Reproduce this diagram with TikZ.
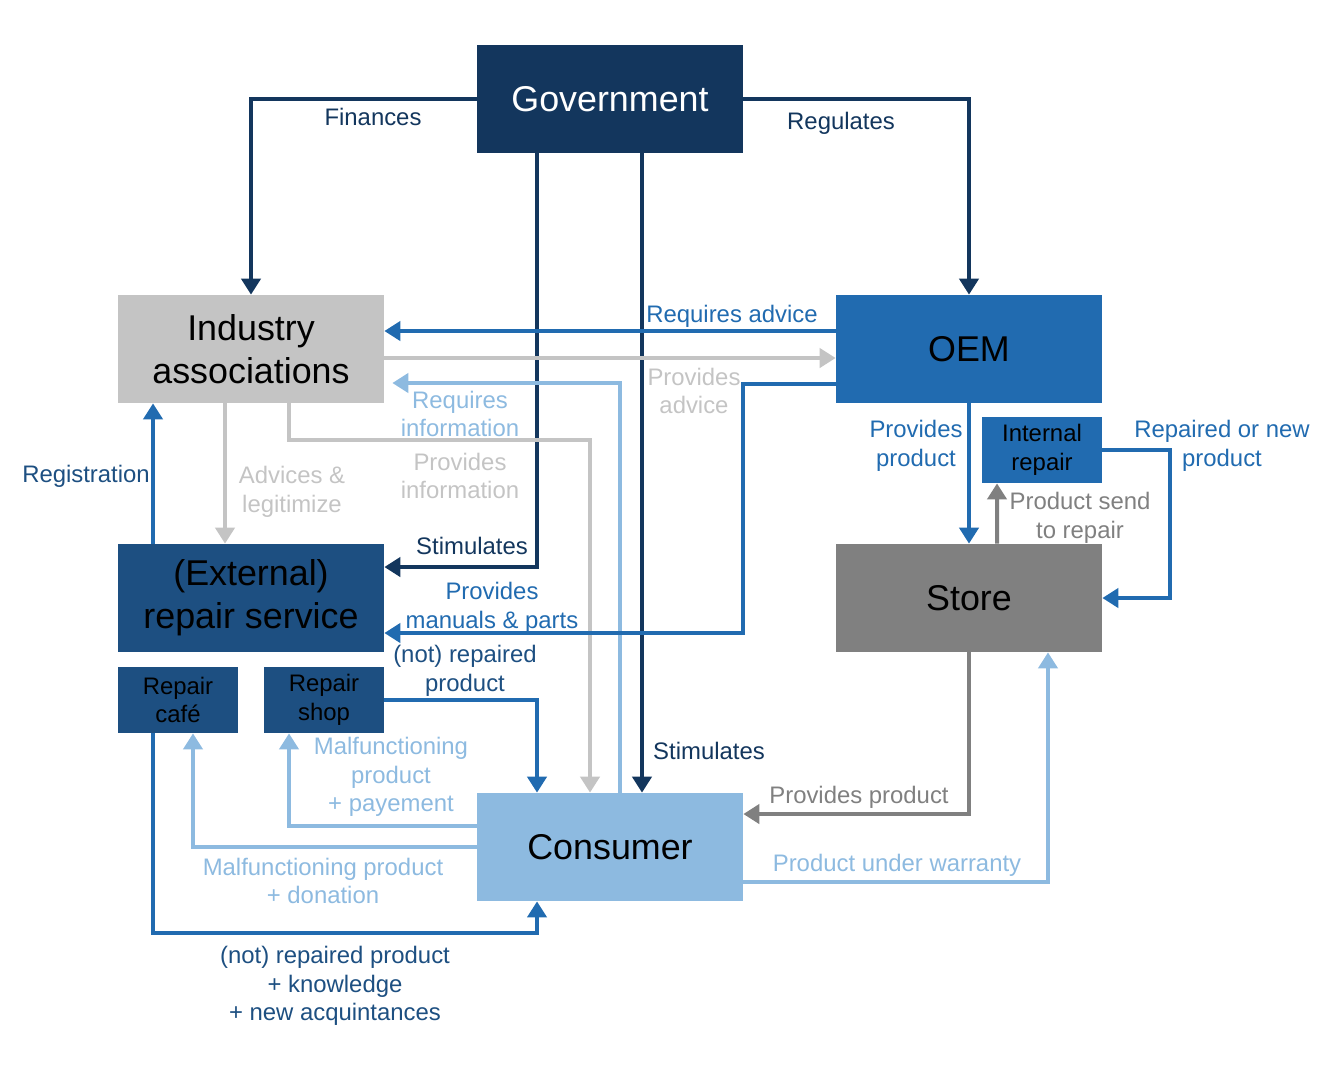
\documentclass[tikz,border=0pt]{standalone}
\usepackage{fontspec}
\setmainfont{Liberation Sans}
\usepackage{tikz}
\usetikzlibrary{arrows.meta,positioning}
\usepackage{xcolor}
\definecolor{rpnavy}{RGB}{19,54,93}
\definecolor{rpdark}{RGB}{29,79,129}
\definecolor{rpblue}{RGB}{33,107,176}
\definecolor{rplightblue}{RGB}{141,186,224}
\definecolor{rpgray}{RGB}{128,128,128}
\definecolor{rplightgray}{RGB}{196,196,196}
\tikzstyle{actor} = [rectangle, minimum width=5.32cm, minimum height=2.16cm, text centered, align=center, inner sep=0pt, font=\fontsize{20.4pt}{24.4pt}\selectfont]
\tikzstyle{subactor} = [rectangle, minimum width=2.4cm, minimum height=1.32cm, text centered, align=center, inner sep=0pt, font=\fontsize{13.6pt}{16.4pt}\selectfont]
\tikzstyle{flow} = [line width=0.08cm, -{Triangle[width=0.38cm,length=0.32cm]}]
\tikzstyle{lbl} = [align=center, inner sep=0pt, font=\fontsize{13.6pt}{16.2pt}\selectfont]

\begin{document}
\begin{tikzpicture}[x=0.02cm, y=-0.02cm]
\useasboundingbox (0,0) rectangle (1337,1080);

% Actors
\node[actor, fill=rpnavy, text=white] (gov) at (610,99) {Government};
\node[actor, fill=rplightgray] (ind) at (251,349) {Industry\\associations};
\node[actor, fill=rpblue] (oem) at (969,349) {OEM};
\node[actor, fill=rpdark] (ext) at (251,598) {(External)\\repair service};
\node[subactor, fill=rpdark] (cafe) at (178,700) {Repair\\café};
\node[subactor, fill=rpdark] (shop) at (324,700) {Repair\\shop};
\node[subactor, fill=rpblue] (intr) at (1042,450) {Internal\\repair};
\node[actor, fill=rpgray] (store) at (969,598) {Store};
\node[actor, fill=rplightblue] (cons) at (610,847) {Consumer};

% Government
\draw[flow, rpnavy] (gov.west) -| (ind.north);
\draw[flow, rpnavy] (gov.east) -| (oem.north);
\draw[flow, rpnavy] ([xshift=-1.46cm]gov.south) |- ([yshift=0.62cm]ext.east);
\draw[flow, rpnavy] ([xshift=0.64cm]gov.south) -- ([xshift=0.64cm]cons.north);

% Industry associations
\draw[flow, rpblue] ([yshift=0.36cm]oem.west) -- ([yshift=0.36cm]ind.east);
\draw[flow, rplightgray] ([yshift=-0.18cm]ind.east) -- ([yshift=-0.18cm]oem.west);
\draw[flow, rplightblue, shorten >=0.16cm] ([xshift=0.2cm]cons.north) |- ([yshift=-0.68cm]ind.east);
\draw[flow, rplightgray] ([xshift=0.76cm]ind.south) -- ++(0,-0.74cm) -| ([xshift=-0.4cm]cons.north);
\draw[flow, rplightgray] ([xshift=-0.52cm]ind.south) -- ([xshift=-0.52cm]ext.north);
\draw[flow, rpblue] ([xshift=-1.96cm]ext.north) -- ([xshift=-1.96cm]ind.south);

% Repair service
\draw[flow, rpblue] ([yshift=-0.7cm]oem.west) -- ++(-1.86cm,0) |- ([yshift=-0.7cm]ext.east);
\draw[flow, rpblue] (shop.east) -| ([xshift=-1.46cm]cons.north);
\draw[flow, rplightblue] ([yshift=0.42cm]cons.west) -| ([xshift=-0.7cm]shop.south);
\draw[flow, rplightblue] (cons.west) -| ([xshift=0.3cm]cafe.south);
\draw[flow, rpblue] ([xshift=-0.5cm]cafe.south) -- ++(0,-4cm) -| ([xshift=-1.46cm]cons.south);

% OEM and store
\draw[flow, rpblue] (oem.south) -- (store.north);
\draw[flow, rpgray] ([xshift=0.56cm]store.north) -- ([xshift=-0.9cm]intr.south);
\draw[flow, rpblue] (intr.east) -- ++(1.36cm,0) |- (store.east);
\draw[flow, rpgray] (store.south) |- ([yshift=0.66cm]cons.east);
\draw[flow, rplightblue] ([yshift=-0.7cm]cons.east) -| ([xshift=1.58cm]store.south);

% Labels
\node[lbl, text=rpnavy] (lfin) at (373,117) {Finances};
\node[lbl, text=rpnavy] (lreg) at (841,123) {Regulates};
\node[lbl, text=rpnavy] (lstimext) at (472,546) {Stimulates};
\node[lbl, text=rpnavy] (lstimcons) at (709,751) {Stimulates};
\node[lbl, text=rpblue] (lreqadv) at (732,316) {Requires advice};
\node[lbl, text=rplightgray] (lprovadv) at (694,391) {Provides\\advice};
\node[lbl, text=rplightblue] (lreqinf) at (460,414) {Requires\\information};
\node[lbl, text=rplightgray] (lprovinf) at (460,476) {Provides\\information};
\node[lbl, text=rplightgray] (ladv) at (292,492) {Advices \&\\legitimize};
\node[lbl, text=rpdark] (lregis) at (86,476) {Registration};
\node[lbl, text=rpblue] (lmanuals) at (492,608) {Provides\\manuals \& parts};
\node[lbl, text=rpdark] (lnotrep) at (465,671) {(not) repaired\\product};
\node[lbl, text=rplightblue] (lpay) at (391,777) {Malfunctioning\\product\\+ payement};
\node[lbl, text=rplightblue] (ldon) at (323,881) {Malfunctioning product\\+ donation};
\node[lbl, text=rpdark] (lknow) at (335,986) {(not) repaired product\\+ knowledge\\+ new acquintances};
\node[lbl, text=rpblue] (lprovprod) at (916,446) {Provides\\product};
\node[lbl, text=rpgray] (lsend) at (1080,518) {Product send\\to repair};
\node[lbl, text=rpblue] (lrepnew) at (1222,446) {Repaired or new\\product};
\node[lbl, text=rpgray] (lstoreprod) at (859,797) {Provides product};
\node[lbl, text=rplightblue] (lwarr) at (897,865) {Product under warranty};
\end{tikzpicture}
\end{document}
